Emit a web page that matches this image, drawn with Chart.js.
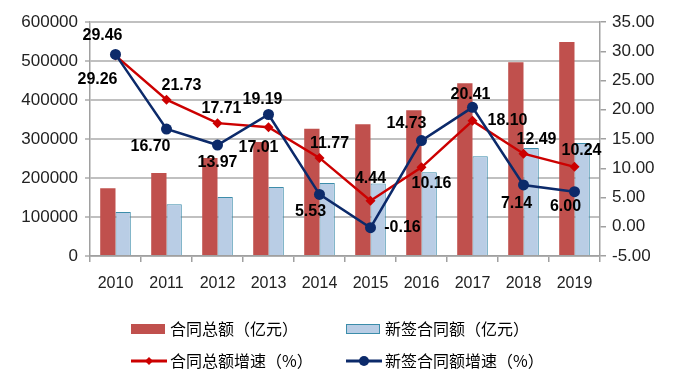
<!DOCTYPE html>
<html>
<head>
<meta charset="utf-8">
<script src="https://cdn.jsdelivr.net/npm/chart.js@4.4.0/dist/chart.umd.min.js"></script>
<style>
  html, body { margin: 0; padding: 0; background: #fff; }
  #wrap { width: 682px; height: 387px; }
</style>
</head>
<body>
<div id="wrap"><canvas id="chart" width="682" height="387"></canvas></div>
<script>
"use strict";

var years = ['2010', '2011', '2012', '2013', '2014', '2015', '2016', '2017', '2018', '2019'];
var totalAmount = [174000, 213000, 251000, 292000, 326000, 338000, 374000, 443000, 497000, 549000];
var newAmount = [113000, 133000, 151000, 177000, 187000, 186000, 215000, 256000, 277000, 290000];
var totalGrowth = [29.26, 21.73, 17.71, 17.01, 11.77, 4.44, 10.16, 18.10, 12.49, 10.24];
var newGrowth = [29.46, 16.70, 13.97, 19.19, 5.53, -0.16, 14.73, 20.41, 7.14, 6.00];

// label offsets from each point (pixels)
var totalLabelOffset = [[-18, 24], [15, -14], [4, -15], [-10, 20], [10, -14], [0, -22], [10, 16], [35, 0], [13, -14], [7, -16]];
var newLabelOffset = [[-13, -19], [-16, 18], [0, 18], [-6, -15], [-9, 17], [32, 0], [-15, -17], [-2, -13], [-7, 19], [-9, 15]];

var tickFont = { family: "'Liberation Sans', Arial, sans-serif", size: 16 };

var pointLabels = {
    id: 'pointLabels',
    afterDatasetsDraw: function (chart) {
        var ctx = chart.ctx;
        ctx.save();
        ctx.font = "bold 16px 'Liberation Sans', Arial, sans-serif";
        ctx.fillStyle = '#000';
        ctx.textAlign = 'center';
        ctx.textBaseline = 'middle';
        [[2, totalLabelOffset], [3, newLabelOffset]].forEach(function (d) {
            var ds = chart.data.datasets[d[0]];
            chart.getDatasetMeta(d[0]).data.forEach(function (pt, i) {
                ctx.fillText(ds.data[i].toFixed(2), pt.x + d[1][i][0], pt.y + d[1][i][1]);
            });
        });
        ctx.restore();
    }
};

var bottomLegend = {
    id: 'bottomLegend',
    afterDraw: function (chart) {
        var ctx = chart.ctx;
        var spots = [[131, 329], [346, 329], [131, 361], [346, 361]];
        ctx.save();
        chart.data.datasets.forEach(function (ds, i) {
            var x = spots[i][0], y = spots[i][1];
            if (ds.type === 'bar') {
                ctx.fillStyle = ds.backgroundColor;
                ctx.fillRect(x, y - 5, 34, 10);
                if (ds.borderWidth) {
                    ctx.strokeStyle = ds.borderColor;
                    ctx.lineWidth = 1;
                    ctx.strokeRect(x + 0.5, y - 4.5, 33, 9);
                }
            } else {
                ctx.strokeStyle = ds.borderColor;
                ctx.lineWidth = 3;
                ctx.beginPath();
                ctx.moveTo(x, y);
                ctx.lineTo(x + 36, y);
                ctx.stroke();
                ctx.fillStyle = ds.borderColor;
                ctx.beginPath();
                if (ds.pointStyle === 'rectRot') {
                    ctx.moveTo(x + 18, y - 4);
                    ctx.lineTo(x + 22, y);
                    ctx.lineTo(x + 18, y + 4);
                    ctx.lineTo(x + 14, y);
                    ctx.closePath();
                } else {
                    ctx.arc(x + 18, y, 5, 0, Math.PI * 2);
                }
                ctx.fill();
            }
            ctx.fillStyle = '#000';
            ctx.font = "16px 'Noto Sans CJK SC', sans-serif";
            ctx.textAlign = 'left';
            ctx.textBaseline = 'middle';
            ctx.fillText(ds.label, x + 39, y);
        });
        ctx.restore();
    }
};

var ctx = document.getElementById('chart').getContext('2d');
var myChart = new Chart(ctx, {
    data: {
        labels: years,
        datasets: [{
            type: 'bar',
            label: '合同总额（亿元）',
            data: totalAmount,
            backgroundColor: '#C0504D',
            borderWidth: 0,
            yAxisID: 'y',
            order: 2,
            categoryPercentage: 0.6,
            barPercentage: 1.0
        }, {
            type: 'bar',
            label: '新签合同额（亿元）',
            data: newAmount,
            backgroundColor: '#B9CDE5',
            borderColor: '#3C8DAA',
            borderWidth: 1,
            yAxisID: 'y',
            order: 2,
            categoryPercentage: 0.6,
            barPercentage: 1.0
        }, {
            type: 'line',
            label: '合同总额增速（%）',
            data: totalGrowth,
            borderColor: '#CC0000',
            backgroundColor: '#CC0000',
            borderWidth: 2.5,
            pointStyle: 'rectRot',
            pointRadius: 5,
            pointBorderWidth: 0,
            tension: 0,
            yAxisID: 'y1',
            order: 1
        }, {
            type: 'line',
            label: '新签合同额增速（%）',
            data: newGrowth,
            borderColor: '#0C2A6A',
            backgroundColor: '#0C2A6A',
            borderWidth: 2.5,
            pointStyle: 'circle',
            pointRadius: 5.5,
            pointBorderWidth: 0,
            tension: 0,
            yAxisID: 'y1',
            order: 0
        }]
    },
    options: {
        responsive: false,
        animation: false,
        layout: {
            padding: { top: 22, bottom: 87, left: 0, right: 0 }
        },
        plugins: {
            legend: { display: false },
            tooltip: { enabled: false }
        },
        scales: {
            x: {
                grid: { offset: true, drawOnChartArea: false, drawTicks: true, tickLength: 6, color: '#A0A0A0', lineWidth: 1.5 },
                border: { color: '#A0A0A0', width: 1.5 },
                ticks: { color: '#222', font: tickFont, padding: 12 },
                afterFit: function (s) { s.height = 44; }
            },
            y: {
                position: 'left',
                min: 0,
                max: 600000,
                ticks: {
                    stepSize: 100000,
                    color: '#222',
                    font: { family: tickFont.family, size: 17 },
                    padding: 7,
                    callback: function (v) { return String(v); }
                },
                grid: { color: '#C0C0C0', lineWidth: 2, tickLength: 5 },
                border: { color: '#A0A0A0', width: 1.5 },
                afterFit: function (s) { s.width = 90; }
            },
            y1: {
                position: 'right',
                min: -5,
                max: 35,
                ticks: {
                    stepSize: 5,
                    color: '#222',
                    font: { family: tickFont.family, size: 17 },
                    padding: 6,
                    callback: function (v) { return v.toFixed(2); }
                },
                grid: { drawOnChartArea: false, color: '#A0A0A0', lineWidth: 1.5, tickLength: 6 },
                border: { color: '#A0A0A0', width: 1.5 },
                afterFit: function (s) { s.width = 82; }
            }
        }
    },
    plugins: [pointLabels, bottomLegend]
});
</script>
</body>
</html>
